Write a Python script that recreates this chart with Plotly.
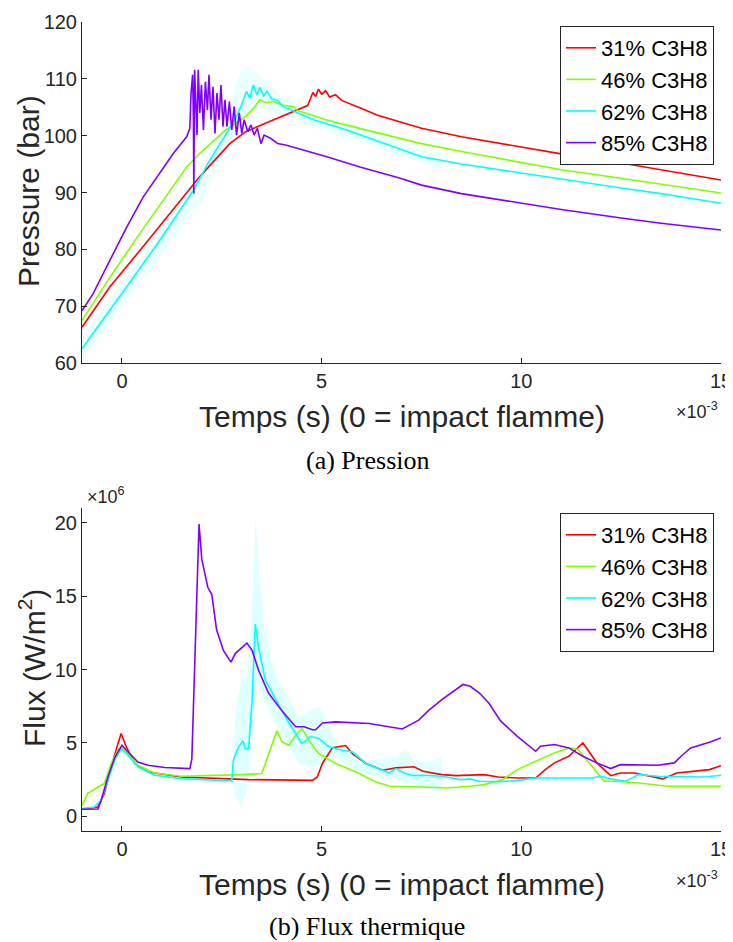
import plotly.graph_objects as go

# ---------------- DATA : Pression (bar) vs temps (ms) ----------------
series_names = ["31% C3H8", "46% C3H8", "62% C3H8", "85% C3H8"]
series_colors = ["#ff0000", "#80ff00", "#00ffff", "#8000ff"]

p31_t = [-1, -0.3, 0.45, 1.2, 1.95, 2.7, 3.1, 3.8, 4.5, 4.65, 4.72, 4.78, 4.85, 4.92, 5.0, 5.1, 5.2,
         5.35, 5.5, 5.65, 6.0, 6.4, 7.0, 7.5, 8.5, 10, 11, 12.5, 13.5, 15]
p31_y = [66.3, 73.4, 79.8, 86.3, 92.8, 98.6, 100.7, 102.8, 104.9, 105.3, 106.5, 107.6, 106.9, 108.2, 107.3,
         107.9, 106.8, 107.2, 106.2, 105.8, 104.8, 103.6, 102.4, 101.3, 99.8, 98.0, 96.8, 95.2, 94.0, 92.2]

p46_t = [-1, -0.3, 0.45, 1.2, 1.62, 1.95, 2.6, 3.1, 3.3, 3.45, 3.6, 3.8, 4.0, 4.3, 4.4, 4.6, 5.1, 6.0,
         7.0, 7.5, 8.5, 10, 11, 12.5, 13.5, 15]
p46_y = [67.5, 75.1, 82.8, 90.4, 94.5, 96.9, 101.0, 103.4, 104.8, 106.3, 105.8, 106.0, 105.4, 105.1, 104.4,
         104.0, 102.8, 101.2, 99.4, 98.6, 97.2, 95.2, 94.0, 92.5, 91.5, 89.9]

p62_t = [-1, -0.8, 0.12, 0.95, 1.79, 2.2, 2.62, 2.87, 3.0, 3.12, 3.2, 3.29, 3.38, 3.45, 3.55, 3.63, 3.75,
         3.9, 4.04, 4.4, 4.8, 5.63, 7.0, 7.5, 8.5, 10, 11, 12.5, 13.5, 15]
p62_y = [62.5, 64.5, 73.4, 81.6, 90.4, 95.7, 100.4, 103.4, 105.5, 107.8, 106.6, 108.9, 107.2, 108.5, 107.0,
         107.8, 106.5, 106.2, 105.1, 104.0, 102.8, 101.0, 97.5, 96.3, 95.0, 93.4, 92.3, 90.8, 89.8, 88.1]

p85_t = [-1, -0.72, -0.3, 0.12, 0.53, 0.95, 1.29, 1.62, 1.70, 1.73, 1.77, 1.79, 1.80, 1.82, 1.85, 1.88,
         1.91, 1.95, 1.99, 2.04, 2.09, 2.14, 2.18, 2.23, 2.28, 2.33, 2.38, 2.43, 2.48, 2.53, 2.58, 2.63,
         2.69, 2.75, 2.81, 2.87, 2.94, 3.0, 3.06, 3.15, 3.23, 3.31, 3.39, 3.48, 3.56, 3.73, 3.9, 4.12,
         5.13, 5.96, 6.97, 7.5, 8.5, 10, 11, 12.5, 13.5, 15]
p85_y = [69.2, 72.2, 78.1, 83.9, 89.2, 93.4, 96.9, 99.8, 101.3, 107.5, 110.7, 102.8, 89.8, 111.6, 106.9,
         100.1, 111.6, 104.0, 108.9, 101.0, 109.5, 104.5, 110.7, 102.8, 108.6, 100.4, 107.5, 102.8, 108.9,
         101.6, 106.3, 101.6, 106.0, 101.0, 105.1, 100.1, 104.0, 100.4, 102.8, 100.7, 101.9, 100.1, 101.3,
         98.6, 100.1, 99.5, 98.6, 98.3, 96.3, 94.5, 92.5, 91.3, 89.8, 88.1, 87.0, 85.5, 84.6, 83.4]

p62_band_t = [-1, 0, 1, 2, 2.6, 2.9, 3.1, 3.3, 3.6, 4.0, 5, 6, 7, 8]
p62_band_hi = [64.5, 74.0, 83.5, 93.5, 102.5, 110.0, 112.5, 111.5, 109.5, 107.0, 103.5, 101.5, 98.8, 96.5]
p62_band_lo = [60.3, 70.0, 79.0, 88.5, 97.5, 101.5, 103.5, 105.0, 104.5, 103.5, 101.0, 99.0, 96.2, 94.3]

# ---------------- DATA : Flux (x1e6 W/m2) vs temps (ms) ----------------
f31_t = [-1.0, -0.6, -0.44, -0.27, -0.1, -0.02, 0.11, 0.32, 0.65, 1.49, 3.17, 4.77, 4.89, 5.02, 5.27, 5.45,
         5.6, 5.77, 6.11, 6.53, 6.72, 6.86, 7.31, 7.54, 8.01, 8.37, 9.07, 9.42, 9.9, 10.36, 10.6, 10.83,
         11.19, 11.54, 11.66, 11.89, 12.24, 12.48, 12.83, 13.19, 13.54, 13.89, 14.36, 14.71, 15.0]
f31_y = [0.48, 0.64, 1.55, 3.36, 4.95, 5.64, 4.73, 3.6, 3.02, 2.68, 2.5, 2.45, 2.68, 3.6, 4.68, 4.75,
         4.82, 4.27, 3.6, 3.14, 3.25, 3.3, 3.38, 3.07, 2.84, 2.77, 2.84, 2.68, 2.61, 2.61, 3.18, 3.64,
         4.09, 5.0, 4.55, 3.64, 2.77, 2.95, 2.95, 2.73, 2.55, 2.95, 3.11, 3.18, 3.45]

f46_t = [-1.0, -0.86, -0.6, -0.44, -0.27, -0.1, -0.02, 0.15, 0.4, 0.82, 1.49, 2.33, 3.0, 3.5, 3.59, 3.76,
         3.88, 4.01, 4.18, 4.35, 4.51, 4.68, 4.93, 5.35, 5.86, 6.36, 6.72, 7.54, 8.13, 8.72, 9.07, 9.54,
         9.9, 10.36, 10.83, 11.19, 11.42, 11.77, 12.07, 12.36, 12.95, 13.65, 14.36, 15.0]
f46_y = [0.75, 1.55, 2.0, 2.23, 3.6, 4.5, 4.73, 4.27, 3.48, 2.95, 2.73, 2.77, 2.84, 2.91, 3.6, 4.95,
         5.82, 5.07, 4.84, 5.52, 5.98, 5.18, 4.27, 3.6, 3.02, 2.34, 2.05, 2.0, 1.93, 2.05, 2.16, 2.5,
         3.18, 3.75, 4.32, 4.66, 4.55, 3.41, 2.39, 2.39, 2.27, 2.05, 2.05, 2.05]

f62_t = [-1.0, -0.69, -0.52, -0.35, -0.18, -0.02, 0.15, 0.4, 0.82, 1.49, 2.75, 2.79, 2.92, 3.03, 3.09,
         3.17, 3.26, 3.34, 3.42, 3.59, 3.8, 4.09, 4.35, 4.5, 4.6, 4.72, 4.93, 5.18, 5.52, 5.77, 6.11,
         6.53, 6.69, 6.86, 7.07, 7.31, 7.54, 8.01, 8.48, 8.72, 8.95, 9.42, 9.9, 10.36, 11.07, 11.77,
         12.0, 12.24, 12.6, 12.95, 13.42, 14.12, 14.59, 15.0]
f62_y = [0.52, 0.64, 1.1, 2.45, 3.82, 4.61, 4.16, 3.36, 2.8, 2.57, 2.41, 3.82, 4.73, 5.14, 4.61,
         4.61, 7.9, 13.1, 11.5, 9.27, 8.25, 6.77, 5.64, 4.95, 5.14, 5.45, 5.3, 4.73, 4.5, 4.39, 3.6,
         3.14, 2.95, 3.25, 2.95, 2.77, 2.8, 2.73, 2.5, 2.55, 2.39, 2.36, 2.43, 2.61, 2.61, 2.61,
         2.73, 2.55, 2.39, 2.84, 2.73, 2.68, 2.68, 2.8]

f85_t = [-1.0, -0.6, -0.52, -0.35, -0.18, 0.0, 0.15, 0.4, 0.65, 1.07, 1.70, 1.75, 1.93, 2.0, 2.15, 2.25,
         2.37, 2.54, 2.73, 2.84, 3.13, 3.26, 3.42, 3.67, 4.0, 4.35, 4.56, 4.77, 4.85, 5.02, 5.35, 6.19,
         7.02, 7.43, 7.66, 8.01, 8.54, 8.72, 8.95, 9.19, 9.48, 9.9, 10.36, 10.48, 10.83, 11.19, 11.54,
         11.89, 12.24, 12.48, 13.42, 13.83, 14.0, 14.24, 14.71, 15.0]
f85_y = [0.48, 0.5, 1.1, 2.7, 4.0, 4.84, 4.4, 3.7, 3.48, 3.32, 3.25, 3.9, 19.9, 17.5, 15.6, 15.1,
         12.7, 11.3, 10.5, 11.1, 11.8, 11.3, 9.95, 8.4, 7.2, 6.1, 6.1, 5.9, 5.9, 6.36, 6.43, 6.32,
         5.95, 6.55, 7.16, 7.95, 8.98, 8.86, 8.4, 7.7, 6.5, 5.45, 4.43, 4.77, 4.89, 4.66, 4.09,
         3.64, 3.25, 3.52, 3.48, 3.64, 4.09, 4.66, 5.05, 5.34]

f62_band_t = [2.75, 2.85, 3.0, 3.1, 3.2, 3.3, 3.35, 3.45, 3.55, 3.8, 4.0, 4.43, 4.77, 4.97, 5.35, 5.7,
              6.1, 6.5, 6.86, 7.1, 7.3, 7.6, 8.0]
f62_band_hi = [2.45, 7.0, 9.5, 9.2, 11.0, 18.0, 20.3, 16.0, 13.1, 10.0, 8.8, 6.8, 7.3, 7.45, 5.2, 4.3,
               3.8, 3.9, 4.0, 4.6, 3.8, 3.7, 3.98]
f62_band_lo = [2.35, 1.2, 0.6, 1.5, 3.5, 6.5, 9.0, 8.7, 7.9, 6.6, 5.6, 3.6, 3.36, 3.5, 4.0, 3.36,
               2.9, 2.68, 2.5, 2.3, 2.2, 1.9, 1.6]

x_ticks = [0, 5, 10, 15]
p_ticks = [60, 70, 80, 90, 100, 110, 120]
f_ticks = [0, 5, 10, 15, 20]

# ---------------- FIGURE ----------------
W, H = 733, 942
OFF = 8  # page body margin of the browser
SANS = "Liberation Sans, Arial, sans-serif"
SERIF = "Liberation Serif, Times New Roman, serif"
AX = "#262626"

fig = go.Figure()

# bands
fig.add_trace(go.Scatter(x=p62_band_t + p62_band_t[::-1], y=p62_band_hi + p62_band_lo[::-1],
                         fill="toself", fillcolor="rgba(0,255,255,0.08)", line=dict(width=0),
                         mode="lines", hoverinfo="skip", showlegend=False, xaxis="x", yaxis="y"))
fig.add_trace(go.Scatter(x=f62_band_t + f62_band_t[::-1], y=f62_band_hi + f62_band_lo[::-1],
                         fill="toself", fillcolor="rgba(0,255,255,0.12)", line=dict(width=0),
                         mode="lines", hoverinfo="skip", showlegend=False, xaxis="x2", yaxis="y2"))

top = [(p31_t, p31_y), (p46_t, p46_y), (p62_t, p62_y), (p85_t, p85_y)]
bot = [(f31_t, f31_y), (f46_t, f46_y), (f62_t, f62_y), (f85_t, f85_y)]
for (t, y), name, c in zip(top, series_names, series_colors):
    fig.add_trace(go.Scatter(x=t, y=y, mode="lines", name=name, line=dict(color=c, width=1.6),
                             xaxis="x", yaxis="y", legend="legend"))
for (t, y), name, c in zip(bot, series_names, series_colors):
    fig.add_trace(go.Scatter(x=t, y=y, mode="lines", name=name, line=dict(color=c, width=1.6),
                             xaxis="x2", yaxis="y2", legend="legend2"))


def px_x(p):
    return (p - OFF) / W


def px_y(p):
    return 1 - (p - OFF) / H


xdom = [px_x(82), px_x(721)]
axis_common = dict(showline=True, linecolor=AX, linewidth=1, ticks="inside", ticklen=5,
                   tickcolor=AX, showgrid=False, zeroline=False, mirror=False,
                   tickfont=dict(family=SANS, size=20, color=AX), automargin=False)

legend_common = dict(font=dict(family=SANS, size=22, color="black"), bgcolor="white",
                     bordercolor=AX, borderwidth=1, xanchor="right", yanchor="top",
                     itemwidth=30, tracegroupgap=0)

fig.update_layout(
    width=W, height=H, margin=dict(l=0, r=0, t=0, b=0),
    paper_bgcolor="white", plot_bgcolor="white",
    xaxis=dict(domain=xdom, range=[-1, 15], tickvals=x_ticks, anchor="y", **axis_common),
    yaxis=dict(domain=[px_y(363), px_y(22)], range=[60, 120], tickvals=p_ticks, anchor="x",
               **axis_common),
    xaxis2=dict(domain=xdom, range=[-1, 15], tickvals=x_ticks, anchor="y2", **axis_common),
    yaxis2=dict(domain=[px_y(831), px_y(508)], range=[-1, 21], tickvals=f_ticks, anchor="x2",
                **axis_common),
    legend=dict(x=px_x(714), y=px_y(26), **legend_common),
    legend2=dict(x=px_x(714), y=px_y(513), **legend_common),
    showlegend=True,
)

ann = [
    dict(text="Temps (s) (0 = impact flamme)", x=px_x(402), y=px_y(416), size=30, family=SANS),
    dict(text="Temps (s) (0 = impact flamme)", x=px_x(402), y=px_y(884), size=30, family=SANS),
    dict(text="Pressure (bar)", x=px_x(28), y=px_y(191), size=30, family=SANS, angle=-90),
    dict(text="Flux (W/m<sup>2</sup>)", x=px_x(32), y=px_y(668), size=30, family=SANS, angle=-90),
    dict(text="×10<sup>-3</sup>", x=px_x(697), y=px_y(410), size=18, family=SANS),
    dict(text="×10<sup>-3</sup>", x=px_x(697), y=px_y(879), size=18, family=SANS),
    dict(text="×10<sup>6</sup>", x=px_x(106), y=px_y(495), size=18, family=SANS),
    dict(text="(a) Pression", x=px_x(367), y=px_y(460), size=26, family=SERIF),
    dict(text="(b) Flux thermique", x=px_x(367), y=px_y(926), size=26, family=SERIF),
]
for a in ann:
    fig.add_annotation(text=a["text"], x=a["x"], y=a["y"], xref="paper", yref="paper",
                       showarrow=False, xanchor="center", yanchor="middle",
                       textangle=a.get("angle", 0),
                       font=dict(family=a["family"], size=a["size"],
                                 color=AX if a["family"] == SANS else "black"))

fig.write_html("out.html")
